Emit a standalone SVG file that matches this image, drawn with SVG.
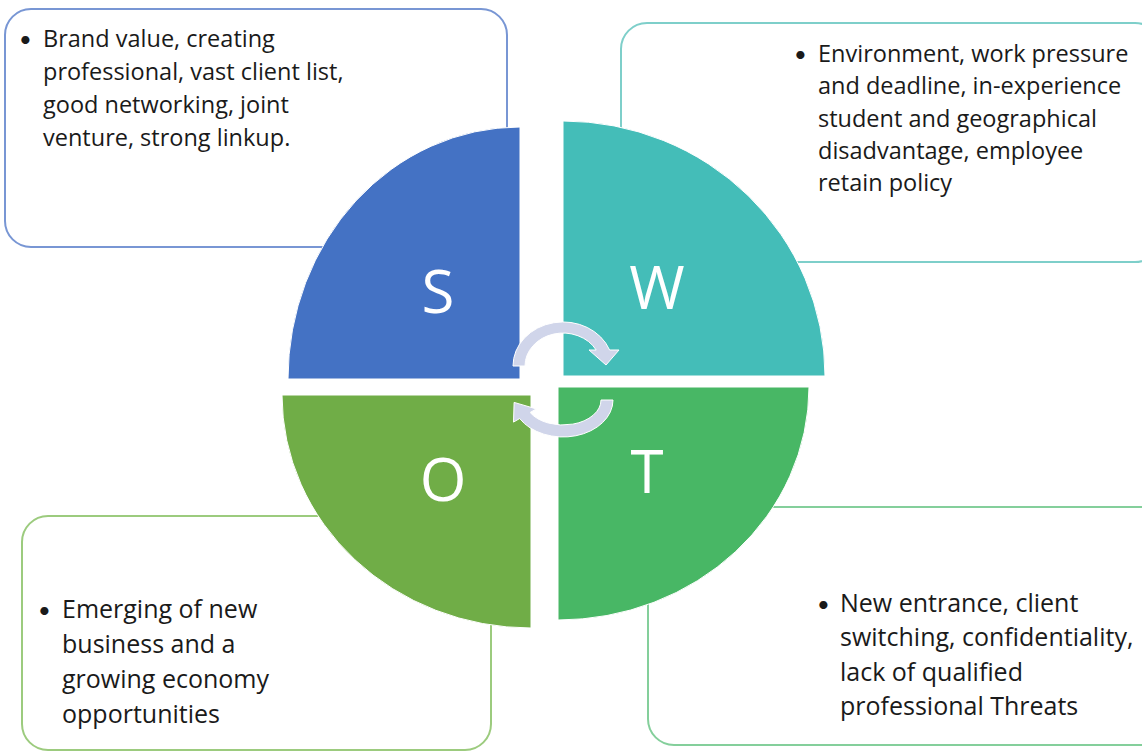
<svg xmlns="http://www.w3.org/2000/svg" width="1142" height="752" viewBox="0 0 1142 752">
<style>
.box{fill:#fff;stroke-width:2}
.txt{font-family:"Open Sans","Liberation Sans",sans-serif;font-size:23.5px;fill:#1a1a1a}
.lg{font-size:25px}
.b{font-family:Lato,"Liberation Sans",sans-serif;font-size:22px}
.big{font-family:"Open Sans","Liberation Sans",sans-serif;font-size:60px;fill:#fff;text-anchor:middle}
.q{stroke:#fff;stroke-width:1}
.arr{fill:#d0d5ea;stroke:#fff;stroke-width:1}
</style>
<rect width="1142" height="752" fill="#fff"/>
<g id="box-s">
<rect class="box" x="5" y="9" width="502" height="238" rx="26" stroke="#7896d4"/>
<text class="txt"><tspan class="b" x="19" y="47">•</tspan><tspan x="43" y="47">Brand value, creating</tspan><tspan x="43" y="80">professional, vast client list,</tspan><tspan x="43" y="113">good networking, joint</tspan><tspan x="43" y="146">venture, strong linkup.</tspan></text>
</g>
<g id="box-w">
<rect class="box" x="621" y="23" width="540" height="239" rx="26" stroke="#7ecfca"/>
<text class="txt"><tspan class="b" x="794" y="62">•</tspan><tspan x="818" y="62">Environment, work pressure</tspan><tspan x="818" y="94">and deadline, in-experience</tspan><tspan x="818" y="126.5">student and geographical</tspan><tspan x="818" y="158.5">disadvantage, employee</tspan><tspan x="818" y="190.5">retain policy</tspan></text>
</g>
<g id="box-o">
<rect class="box" x="22" y="516" width="469" height="234" rx="26" stroke="#9ccb7e"/>
<text class="txt lg"><tspan class="b" x="38" y="618">•</tspan><tspan x="62" y="618">Emerging of new</tspan><tspan x="62" y="653">business and a</tspan><tspan x="62" y="688">growing economy</tspan><tspan x="62" y="723">opportunities</tspan></text>
</g>
<g id="box-t">
<rect class="box" x="648" y="507" width="520" height="238" rx="26" stroke="#84cf9b"/>
<text class="txt lg"><tspan class="b" x="817" y="612">•</tspan><tspan x="840" y="612">New entrance, client</tspan><tspan x="840" y="646">switching, confidentiality,</tspan><tspan x="840" y="680.5">lack of qualified</tspan><tspan x="840" y="715">professional Threats</tspan></text>
</g>
<g id="quarter-s">
<path class="q" d="M520 379 L288 379 A232 252 0 0 1 520 127 Z" fill="#4472c4"/>
<text class="big" x="438" y="313">S</text>
</g>
<g id="quarter-w">
<path class="q" d="M563 376 L563 121 A262 255 0 0 1 825 376 Z" fill="#44bdb8"/>
<text class="big" x="657" y="309">W</text>
</g>
<g id="quarter-o">
<path class="q" d="M531 395 L531 628 A249 233 0 0 1 282 395 Z" fill="#70ad47"/>
<text class="big" x="443" y="501">O</text>
</g>
<g id="quarter-t">
<path class="q" d="M558 387 L809 387 A251 233 0 0 1 558 620 Z" fill="#48b765"/>
<text class="big" x="647" y="493">T</text>
</g>
<g id="connectors">
<path class="arr" d="M513 366 A50 44 0 0 1 609.6 350 L619 350 L606 365 L589 350 L596.2 350 A38 33 0 0 0 525 366 Z"/>
<path class="arr" d="M613 400 A50 37 0 0 1 519.7 418.5 L513.5 422.1 L514.1 402.4 L536.3 408.9 L530.1 412.5 A38 25 0 0 0 601 400 Z"/>
</g>
</svg>
